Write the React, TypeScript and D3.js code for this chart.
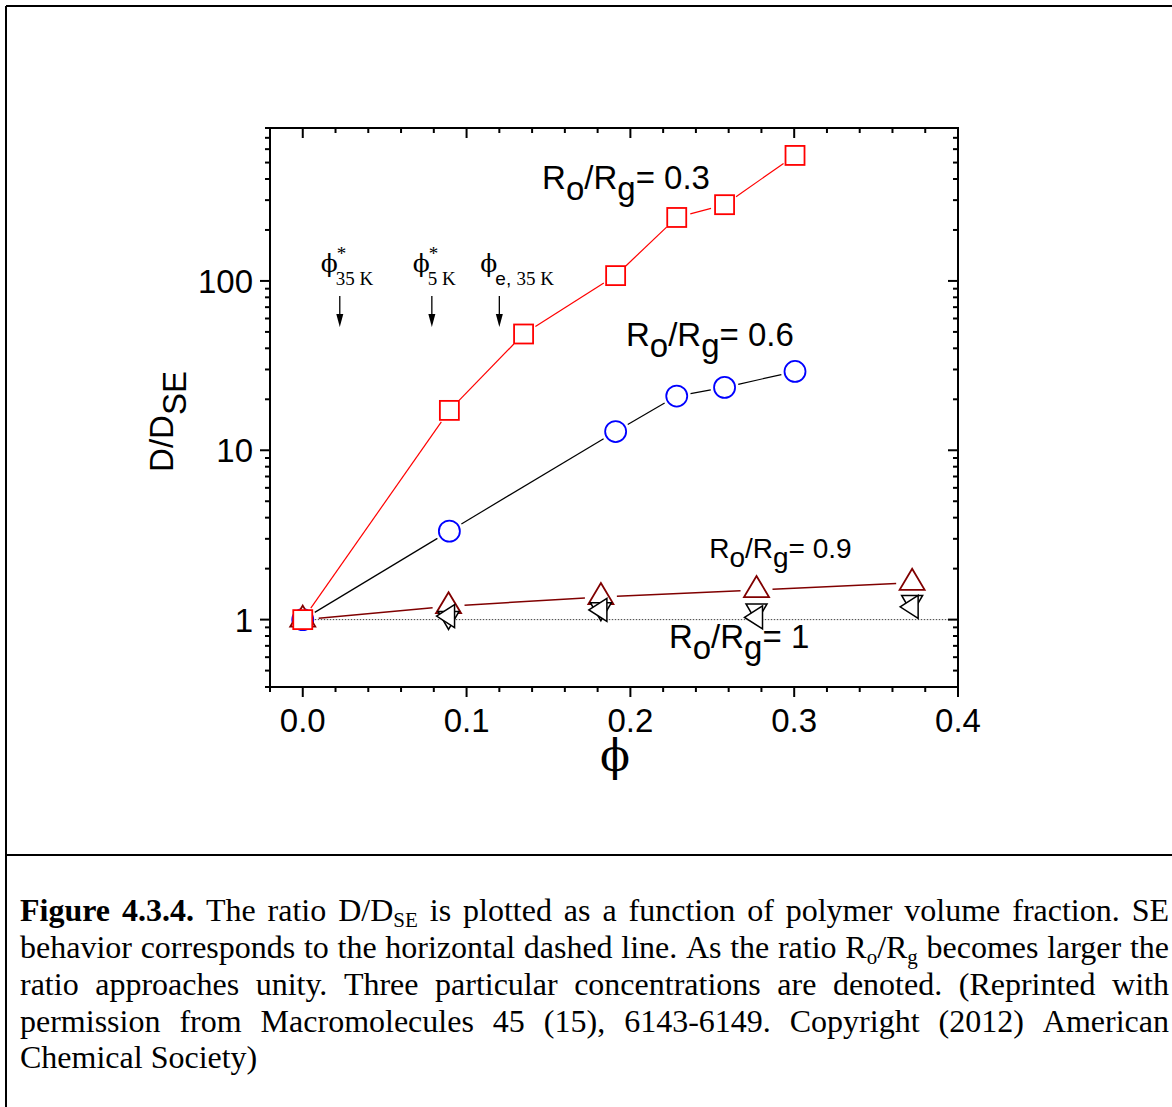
import React, { useMemo } from 'react';
import * as d3 from 'd3';

const W = 1172;
const H = 1107;

// D/D_SE versus polymer volume fraction, one series per Ro/Rg ratio
const phiR03 = [0, 0.0895, 0.1348, 0.191, 0.2283, 0.2575, 0.3005];
const dR03 = [1, 17.2, 48.6, 107.5, 237, 282, 551];

const phiR06 = [0, 0.0895, 0.191, 0.2283, 0.2575, 0.3005];
const dR06 = [1, 3.33, 12.9, 20.9, 23.5, 29.2];

const phiR09 = [0, 0.089, 0.182, 0.277, 0.372];
const dR09 = [1, 1.2, 1.36, 1.495, 1.65];

const phiR1 = [0.089, 0.182, 0.277, 0.372];
const dR1Down = [1.03, 1.16, 1.14, 1.28];
const dR1Left = [1.05, 1.14, 1.03, 1.19];

// axis ticks
const xMajor = [0, 0.1, 0.2, 0.3, 0.4];
const yMajor = [1, 10, 100];
const yTickLabels = ['1', '10', '100'];

// concentration markers (arrows)
const arrowPhi = [0.0226, 0.0788, 0.12];
const arrowSup = ['*', '*', ''];
const arrowSubSans = ['', '', 'e, '];
const arrowSub = ['35 K', '5 K', '35 K'];
const arrowTop = 81.5;
const arrowTip = 53.5;

// series labels: [phi, D/DSE] anchor, ratio text, font size
const seriesLabels = [
  { phi: 0.1461, d: 351, ratio: '0.3', size: 33 },
  { phi: 0.1973, d: 41.3, ratio: '0.6', size: 33 },
  { phi: 0.2481, d: 2.31, ratio: '0.9', size: 28 },
  { phi: 0.2235, d: 0.68, ratio: '1', size: 33 },
];

const captionLines = [
  '**Figure** **4.3.4.** The ratio D/D_{SE} is plotted as a function of polymer volume fraction. SE',
  'behavior corresponds to the horizontal dashed line. As the ratio R_{o}/R_{g} becomes larger the',
  'ratio approaches unity. Three particular concentrations are denoted. (Reprinted with',
  'permission from Macromolecules 45 (15), 6143-6149. Copyright (2012) American',
  'Chemical Society)',
];

const SANS = '"Liberation Sans", Arial, sans-serif';
const SERIF = '"Liberation Serif", "Times New Roman", serif';
const PHI_FONT = '"DejaVu Serif", serif';
const PHI = '\u03D5';

const plot = { left: 270, right: 958, top: 128, bottom: 687 };

type Run = { t: string; bold?: boolean; sub?: boolean };

function parseWord(w: string): Run[] {
  const runs: Run[] = [];
  const re = /\*\*(.+?)\*\*|_\{(.+?)\}|([^*_]+)/g;
  let m: RegExpExecArray | null;
  while ((m = re.exec(w))) {
    if (m[1]) runs.push({ t: m[1], bold: true });
    else if (m[2]) runs.push({ t: m[2], sub: true });
    else runs.push({ t: m[3] });
  }
  return runs;
}

function trimmedSegments(pts: [number, number][], gap: number) {
  const segs: [number, number, number, number][] = [];
  for (let i = 0; i < pts.length - 1; i++) {
    const [x1, y1] = pts[i];
    const [x2, y2] = pts[i + 1];
    const dx = x2 - x1;
    const dy = y2 - y1;
    const len = Math.hypot(dx, dy);
    if (len <= 2 * gap) continue;
    const ux = dx / len;
    const uy = dy / len;
    segs.push([x1 + ux * gap, y1 + uy * gap, x2 - ux * gap, y2 - uy * gap]);
  }
  return segs;
}

function Caption() {
  const size = 32;
  const subSize = 21;
  const left = 20;
  const right = 1169;
  const baselines = [921, 958, 995, 1031.5, 1068];

  const laid = useMemo(() => {
    const canvas = document.createElement('canvas');
    const ctx = canvas.getContext('2d')!;
    const measure = (r: Run) => {
      ctx.font = `${r.bold ? 'bold ' : ''}${r.sub ? subSize : size}px "Liberation Serif"`;
      return ctx.measureText(r.t).width;
    };
    ctx.font = `${size}px "Liberation Serif"`;
    const spaceW = ctx.measureText(' ').width;
    return captionLines.map((line, li) => {
      const words = line.split(' ').map((w) => {
        const runs = parseWord(w).map((r) => ({ ...r, w: measure(r) }));
        return { runs, w: d3.sum(runs, (r) => r.w) };
      });
      const total = d3.sum(words, (w) => w.w);
      const last = li === captionLines.length - 1;
      const gap = last || words.length < 2 ? spaceW : (right - left - total) / (words.length - 1);
      let x = left;
      const items: { x: number; r: Run }[] = [];
      words.forEach((w) => {
        let rx = x;
        w.runs.forEach((r) => {
          items.push({ x: rx, r });
          rx += r.w;
        });
        x += w.w + gap;
      });
      return { y: baselines[li], items };
    });
  }, []);

  return (
    <g fontFamily={SERIF} fill="#000">
      {laid.map((ln, i) =>
        ln.items.map((it, j) => (
          <text
            key={`${i}-${j}`}
            x={it.x}
            y={ln.y + (it.r.sub ? 6 : 0)}
            fontSize={it.r.sub ? subSize : size}
            fontWeight={it.r.bold ? 'bold' : 'normal'}
          >
            {it.r.t}
          </text>
        ))
      )}
    </g>
  );
}

export default function App() {
  const x = d3.scaleLinear().domain([-0.02, 0.4]).range([plot.left, plot.right]);
  const y = d3.scaleLog().domain([0.4, 800]).range([plot.bottom, plot.top]);

  const xMinor = d3
    .range(-1, 21)
    .map((i) => +(i * 0.02).toFixed(2))
    .filter((v) => !xMajor.some((m) => Math.abs(m - v) < 1e-9));
  const yMinor: number[] = [];
  [0.1, 1, 10, 100].forEach((dec) => {
    for (let k = 2; k <= 9; k++) {
      const v = k * dec;
      if (v >= 0.4 - 1e-9 && v <= 800 + 1e-9) yMinor.push(v);
    }
  });

  const pts = (xs: number[], ys: number[]) =>
    xs.map((v, i) => [x(v), y(ys[i])] as [number, number]);

  const ptsR03 = pts(phiR03, dR03);
  const ptsR06 = pts(phiR06, dR06);
  const ptsR09 = pts(phiR09, dR09);
  const ptsR1Down = pts(phiR1, dR1Down);
  const ptsR1Left = pts(phiR1, dR1Left);

  const fmtX = d3.format('.1f');

  const segLines = (p: [number, number][], gap: number, color: string, w: number) =>
    trimmedSegments(p, gap).map((s, i) => (
      <line key={i} x1={s[0]} y1={s[1]} x2={s[2]} y2={s[3]} stroke={color} strokeWidth={w} />
    ));

  const majLen = 10;
  const minLen = 5;

  return (
    <svg
      width={W}
      height={H}
      viewBox={`0 0 ${W} ${H}`}
      style={{ position: 'absolute', left: 0, top: 0, background: '#fff' }}
    >
      <rect x={0} y={0} width={W} height={H} fill="#fff" />

      {/* page frame */}
      <line x1={6} y1={6} x2={W} y2={6} stroke="#000" strokeWidth={2} />
      <line x1={6} y1={6} x2={6} y2={H} stroke="#000" strokeWidth={2} />
      <line x1={6} y1={855} x2={W} y2={855} stroke="#000" strokeWidth={2} />

      {/* SE reference line */}
      <line
        x1={x(0)}
        x2={x(0.4)}
        y1={y(1)}
        y2={y(1)}
        stroke="#444"
        strokeWidth={1}
        strokeDasharray="1.5,1.5"
      />

      {/* connecting lines */}
      {segLines(ptsR03, 14, '#ff0000', 1.2)}
      {segLines(ptsR06, 14, '#000', 1.2)}
      {segLines(ptsR09, 16, '#800000', 1.5)}

      {/* markers */}
      {ptsR06.map(([cx, cy], i) => (
        <circle key={`c${i}`} cx={cx} cy={cy} r={10.5} fill="#fff" stroke="#0000ff" strokeWidth={1.8} />
      ))}
      {ptsR09.map(([cx, cy], i) => (
        <path
          key={`t${i}`}
          transform={`translate(${cx},${cy})`}
          d="M0,-14L12.5,7L-12.5,7Z"
          fill="#fff"
          stroke="#800000"
          strokeWidth={1.8}
        />
      ))}
      {ptsR1Down.map(([cx, cy], i) => (
        <path
          key={`d${i}`}
          transform={`translate(${cx},${cy})`}
          d="M0,12L10.5,-6L-10.5,-6Z"
          fill="#fff"
          stroke="#000"
          strokeWidth={1.5}
        />
      ))}
      {ptsR1Left.map(([cx, cy], i) => (
        <path
          key={`l${i}`}
          transform={`translate(${cx},${cy})`}
          d="M-12,0L6,-11.5L6,11.5Z"
          fill="#fff"
          stroke="#000"
          strokeWidth={1.5}
        />
      ))}
      {ptsR03.map(([cx, cy], i) => (
        <rect
          key={`s${i}`}
          x={cx - 9.5}
          y={cy - 9.5}
          width={19}
          height={19}
          fill="#fff"
          stroke="#ff0000"
          strokeWidth={1.8}
        />
      ))}

      {/* frame */}
      <rect
        x={plot.left}
        y={plot.top}
        width={plot.right - plot.left}
        height={plot.bottom - plot.top}
        fill="none"
        stroke="#000"
        strokeWidth={2}
      />

      {/* x ticks: bottom outward, top inward */}
      {xMajor.concat(xMinor).map((v, i) => {
        const len = i < xMajor.length ? majLen : minLen;
        const px = x(v);
        return (
          <g key={`xt${i}`} stroke="#000" strokeWidth={2}>
            <line x1={px} x2={px} y1={plot.bottom} y2={plot.bottom + len} />
            <line x1={px} x2={px} y1={plot.top} y2={plot.top + len} />
          </g>
        );
      })}
      {/* y ticks: left outward, right inward */}
      {yMajor.concat(yMinor).map((v, i) => {
        const len = i < yMajor.length ? majLen : minLen;
        const py = y(v);
        return (
          <g key={`yt${i}`} stroke="#000" strokeWidth={2}>
            <line x1={plot.left - len} x2={plot.left} y1={py} y2={py} />
            <line x1={plot.right - len} x2={plot.right} y1={py} y2={py} />
          </g>
        );
      })}

      {/* tick labels */}
      <g fontFamily={SANS} fontSize={33} fill="#000">
        {xMajor.map((v) => (
          <text key={`xl${v}`} x={x(v)} y={732} textAnchor="middle">
            {fmtX(v)}
          </text>
        ))}
        {yMajor.map((v, i) => (
          <text key={`yl${v}`} x={253} y={y(v) + 12} textAnchor="end">
            {yTickLabels[i]}
          </text>
        ))}
      </g>

      {/* axis titles */}
      <text
        transform="translate(173,421.5) rotate(-90)"
        textAnchor="middle"
        fontFamily={SANS}
        fontSize={33}
        fill="#000"
      >
        D/D<tspan dy={13}>SE</tspan>
      </text>
      <text x={615} y={771} textAnchor="middle" fontFamily={PHI_FONT} fontSize={44} fill="#000">
        {PHI}
      </text>

      {/* series labels */}
      {seriesLabels.map((l, i) => {
        const sh = Math.round(l.size * 0.33);
        return (
          <text key={`sl${i}`} x={x(l.phi)} y={y(l.d)} fontFamily={SANS} fontSize={l.size} fill="#000">
            R<tspan dy={sh}>o</tspan>
            <tspan dy={-sh}>/R</tspan>
            <tspan dy={sh}>g</tspan>
            <tspan dy={-sh}>= {l.ratio}</tspan>
          </text>
        );
      })}

      {/* concentration arrows */}
      {arrowPhi.map((p, i) => {
        const ax = x(p);
        const yTop = y(arrowTop);
        const yTip = y(arrowTip);
        return (
          <g key={`ar${i}`}>
            <line x1={ax} x2={ax} y1={yTop} y2={yTip - 10} stroke="#000" strokeWidth={1.3} />
            <path d={`M${ax - 3.5},${yTip - 13}L${ax + 3.5},${yTip - 13}L${ax},${yTip}Z`} fill="#000" />
            <text x={ax - 19} y={yTop - 24} fontFamily={PHI_FONT} fontSize={25} fill="#000">
              {PHI}
            </text>
            {arrowSup[i] && (
              <text x={ax - 3} y={yTop - 36} fontFamily={SERIF} fontSize={19} fill="#000">
                {arrowSup[i]}
              </text>
            )}
            <text x={ax - 4} y={yTop - 11} fontSize={19} fill="#000">
              {arrowSubSans[i] && <tspan fontFamily={SANS}>{arrowSubSans[i]}</tspan>}
              <tspan fontFamily={SERIF}>{arrowSub[i]}</tspan>
            </text>
          </g>
        );
      })}

      <Caption />
    </svg>
  );
}
